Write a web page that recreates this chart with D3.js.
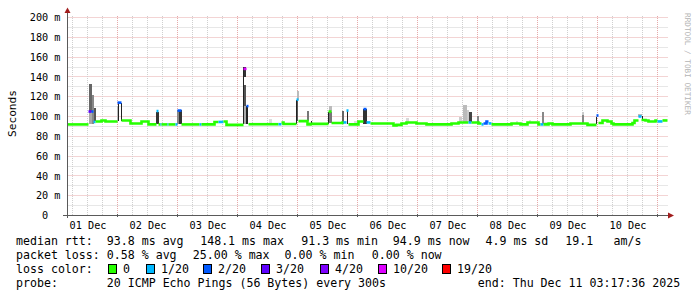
<!DOCTYPE html>
<html>
<head>
<meta charset="utf-8">
<script src="https://cdn.jsdelivr.net/npm/d3@7"></script>
<style>
  body { margin: 0; background: #fff; }
  svg { display: block; }
  text { font-family: "DejaVu Sans Mono", monospace; white-space: pre; }
</style>
</head>
<body>
<svg width="697" height="297"></svg>
<script>
// hours are counted from 01 Dec 2025 00:00 UTC
var DAY0 = Date.UTC(2025, 11, 1);
var START_H = 4, END_H = 244;

var days = ["2025-12-01", "2025-12-02", "2025-12-03", "2025-12-04", "2025-12-05",
            "2025-12-06", "2025-12-07", "2025-12-08", "2025-12-09", "2025-12-10"];
var yTicks = [0, 20, 40, 60, 80, 100, 120, 140, 160, 180, 200];

// median rtt in ms, as [hour, value] step changes
var median = [
  [4, 92], [12.4, 105], [14.4, 94.5], [15.2, 95], [17.6, 96], [19.2, 95], [24, 114], [25.6, 96],
  [29.2, 93], [33.6, 95], [36.4, 92], [39.6, 105.5], [40.4, 92], [48, 106], [49.6, 92],
  [62.8, 94.5], [66.4, 95], [67.6, 91.5], [74.4, 148.1], [75.6, 110.5], [76.4, 92.2],
  [89.6, 94], [90.4, 92.5], [95.6, 117], [96.4, 95.3], [100, 92], [101.2, 92.6],
  [108.4, 105], [109.6, 93.4], [114, 94], [115.6, 106], [116.4, 92], [120.4, 95],
  [122.4, 107.5], [123.6, 94], [125.2, 93], [134.4, 91], [135.6, 91.5], [137.6, 93],
  [139.6, 94], [143.6, 93], [147.6, 92], [157.6, 93], [160.4, 94], [168.4, 93], [169.6, 92],
  [170.4, 93], [171.6, 95], [172.4, 93], [173.6, 92], [181.6, 93], [185.2, 92], [188, 94],
  [192.4, 92], [196.4, 93], [198, 92], [205.2, 93], [212, 91.5], [215.6, 101], [216.4, 93.5],
  [218, 96], [220, 95], [221.6, 93], [222.4, 92], [230, 93.5], [230.8, 96], [232.4, 100],
  [233.6, 96.5], [235.2, 96], [236.4, 95], [239.2, 96], [240, 95], [242, 96]
];

// packet loss (pings lost out of 20), as [fromHour, toHour, lost]
var losses = [
  [12.4, 13.6, 3], [13.6, 14.4, 2], [14.4, 15.2, 1], [24, 25.6, 2], [39.6, 40.4, 1],
  [41.2, 41.6, 1], [44, 44.4, 1], [47.2, 48, 1], [48, 49.6, 2], [56.8, 57.6, 1],
  [64.4, 66.4, 1], [74.4, 75.6, 10], [75.6, 76.4, 2], [88.4, 89.6, 1], [95.6, 96.4, 1],
  [114.4, 116.4, 1], [122.4, 123.6, 2], [123.6, 125.2, 1], [164.4, 165.6, 1],
  [169.6, 170.4, 1], [170.4, 172.4, 2], [172.4, 173.6, 1], [193.2, 194.4, 1],
  [215.6, 216.4, 2], [232.4, 233.6, 1], [240, 242, 1]
];

// smoke: spread of the single pings, [fromHour, toHour, lowMs, highMs, density grey]
var smoke = [
  [12.4, 13.6, 105, 133, "#666"], [12.4, 13.6, 92, 105, "#a8a8a8"], [13.6, 14.4, 92, 122, "#888"],
  [14.4, 15.2, 95, 109, "#555"], [23.6, 24, 94, 111, "#bbb"], [24, 24.4, 95, 114, "#222"],
  [25.2, 25.6, 95, 114, "#222"], [39.2, 40.4, 92, 105, "#333"], [47.6, 48.4, 92, 107, "#888"],
  [48.4, 49.6, 92, 107, "#333"], [74, 74.4, 92, 150, "#222"], [74.4, 75.2, 140, 150, "#333"],
  [74.4, 75.2, 111, 132, "#555"], [74.4, 75.2, 92, 111, "#aaa"], [75.2, 76, 92, 111, "#222"],
  [84.4, 85.6, 93, 97, "#ddd"], [95.2, 95.6, 92, 117, "#222"], [95.6, 96.4, 117, 126, "#bbb"],
  [95.6, 96, 95, 117, "#555"], [99.6, 100.4, 95, 106, "#777"], [101.2, 101.6, 91, 95, "#222"],
  [108, 108.4, 92, 105, "#222"], [108.4, 109.6, 105, 111, "#bbb"], [108.4, 109.6, 93, 105, "#777"],
  [113.6, 114.4, 92, 106, "#666"], [115.6, 116, 92, 106, "#222"], [118.4, 120, 92, 95, "#ddd"],
  [122, 123.6, 92, 107.5, "#333"], [134, 134.4, 91, 93, "#222"], [139.2, 140.4, 94, 98, "#d8d8d8"],
  [160.4, 161.6, 94, 100, "#ccc"], [162, 163.6, 94, 112, "#bbb"], [163.6, 164.4, 94, 107, "#ccc"],
  [164.4, 165.6, 94, 105, "#444"], [167.6, 168.4, 93, 101, "#888"], [183.2, 184, 92, 95, "#ddd"],
  [188.4, 189.2, 94, 96, "#ddd"], [193.6, 194.4, 92, 105, "#888"], [194.4, 195.6, 92, 94, "#ddd"],
  [209.6, 210.4, 93, 102, "#888"], [209.6, 210.4, 102, 105, "#ccc"], [215.2, 215.6, 92, 99, "#222"],
  [232, 233.6, 100, 103, "#bbb"], [233.6, 234, 96, 101, "#222"]
];

var lossSteps = [0, 1, 2, 3, 4, 10, 19];
var lossColors = ["#26ff00", "#00b8ff", "#0059ff", "#5e00ff", "#7e00ff", "#dd00ff", "#ff0000"];
var lossLabels = ["0", "1/20", "2/20", "3/20", "4/20", "10/20", "19/20"];

var rttStats = [93.8, 148.1, 91.3, 94.9, 4.9, 19.1];
var lossStats = [0.58, 25.00, 0.00, 0.00];

function hour(h) { return new Date(DAY0 + h * 3600e3); }

var svg = d3.select("svg");

var x = d3.scaleUtc().domain([hour(START_H), hour(END_H)]).range([67.5, 667.5]);
var y = d3.scaleLinear().domain([0, 200]).range([215.5, 17.5]);
var lossColor = d3.scaleThreshold().domain(lossSteps.slice(1)).range(lossColors);

function px(v) { return Math.round(v - 0.5) + 0.5; }

// grid
var grid = svg.append("g").attr("fill", "none").attr("stroke-dasharray", "1,1");
d3.range(10, 201, 10).forEach(function(v) {
  grid.append("line")
      .attr("x1", 67.5).attr("x2", 668)
      .attr("y1", px(y(v))).attr("y2", px(y(v)))
      .attr("stroke", v % 20 ? "#cfcfcf" : "#e6a9a9");
});
d3.utcHour.every(6).range(hour(START_H), hour(END_H)).forEach(function(t) {
  grid.append("line")
      .attr("x1", px(x(t))).attr("x2", px(x(t)))
      .attr("y1", 215).attr("y2", 15)
      .attr("stroke", t.getUTCHours() ? "#cfcfcf" : "#e6a9a9");
});

// smoke
svg.append("g").attr("shape-rendering", "crispEdges")
  .selectAll("rect").data(smoke).enter().append("rect")
    .attr("x", function(d) { return x(hour(d[0])); })
    .attr("width", function(d) { return x(hour(d[1])) - x(hour(d[0])); })
    .attr("y", function(d) { return y(d[3]); })
    .attr("height", function(d) { return y(d[2]) - y(d[3]); })
    .attr("fill", function(d) { return d[4]; });

// median line, split into runs of the same loss colour (big jumps are not joined)
function valueAt(h) {
  var v = median[0][1];
  median.forEach(function(d) { if (d[0] <= h) v = d[1]; });
  return v;
}
function lossAt(h) {
  var c = 0;
  losses.forEach(function(d) { if (h >= d[0] && h < d[1]) c = d[2]; });
  return c;
}
var breaks = median.map(function(d) { return d[0]; })
  .concat(d3.merge(losses.map(function(d) { return [d[0], d[1]]; })), [END_H]);
breaks = Array.from(new Set(breaks)).sort(d3.ascending);

var runs = [];
for (var i = 0; i < breaks.length - 1; i++) {
  var a = breaks[i], b = breaks[i + 1], col = lossColor(lossAt(a)), v = valueAt(a);
  var last = runs[runs.length - 1];
  if (last && last.color === col && Math.abs(last.pts[last.pts.length - 1][1] - v) < 8) {
    last.pts.pop();
    last.pts.push([a, v], [b, v]);
  } else {
    runs.push({ color: col, pts: [[a, v], [b, v]] });
  }
}

var line = d3.line()
    .x(function(d) { return x(hour(d[0])); })
    .y(function(d) { return y(d[1]); })
    .curve(d3.curveStepAfter);

svg.append("g").attr("fill", "none").attr("stroke-width", 2.6)
  .selectAll("path").data(runs).enter().append("path")
    .attr("stroke", function(d) { return d.color; })
    .attr("d", function(d) { return line(d.pts); });

// axes
var yAxis = svg.append("g")
    .attr("transform", "translate(67.5,0)")
    .call(d3.axisLeft(y).tickValues(yTicks).tickSize(0).tickPadding(7)
      .tickFormat(function(d) { return d ? d + " m" : "0  "; }));
yAxis.select(".domain").remove();
yAxis.selectAll("text").attr("font-family", "DejaVu Sans Mono").attr("font-size", 10.2).attr("fill", "#000");

var xAxis = svg.append("g")
    .attr("transform", "translate(0,215.5)")
    .call(d3.axisBottom(x)
      .tickValues(days.map(function(d) { return d3.utcHour.offset(new Date(d + "T00:00Z"), 12); }))
      .tickSize(0).tickPadding(6)
      .tickFormat(d3.utcFormat("%d %b")));
xAxis.select(".domain").remove();
xAxis.selectAll("text").attr("font-family", "DejaVu Sans Mono").attr("font-size", 10.2).attr("fill", "#000");

var axisCol = "#5a5a5a", arrowCol = "#a11d1d";
svg.append("g").attr("stroke", axisCol)
  .selectAll("line")
  .data(d3.utcDay.range(hour(START_H), hour(END_H)))
  .enter().append("line")
    .attr("x1", function(d) { return px(x(d)); }).attr("x2", function(d) { return px(x(d)); })
    .attr("y1", 214).attr("y2", 217);
svg.append("line").attr("x1", 67.5).attr("x2", 67.5).attr("y1", 12).attr("y2", 218).attr("stroke", axisCol);
svg.append("line").attr("x1", 63).attr("x2", 669).attr("y1", 215.5).attr("y2", 215.5).attr("stroke", axisCol);
svg.append("path").attr("d", "M64.5,13L70.5,13L67.5,7.5Z").attr("fill", arrowCol);
svg.append("path").attr("d", "M668,212.5L668,218.5L674,215.5Z").attr("fill", arrowCol);

// titles
svg.append("text")
    .attr("transform", "translate(15.5,113.5) rotate(-90)")
    .attr("text-anchor", "middle")
    .attr("font-size", 11.2)
    .text("Seconds");
svg.append("text")
    .attr("transform", "translate(685,13) rotate(90)")
    .attr("font-size", 7.7)
    .attr("fill", "#b4b4b4")
    .text("RRDTOOL / TOBI OETIKER");

// legend
var legend = svg.append("g").attr("font-size", 11.6).attr("fill", "#000");
function put(tx, lx, ly) { legend.append("text").attr("x", lx).attr("y", ly).text(tx); }

var f1 = d3.format(".1f"), f2 = d3.format(".2f");
put("median rtt:", 16, 245);
var rttText = [f1(rttStats[0]) + " ms avg", f1(rttStats[1]) + " ms max", f1(rttStats[2]) + " ms min",
               f1(rttStats[3]) + " ms now", f1(rttStats[4]) + " ms sd", f1(rttStats[5]), "am/s"];
[106.8, 200.2, 301.2, 392.8, 485.5, 565.2, 613.5].forEach(function(lx, i) { put(rttText[i], lx, 245); });

put("packet loss:", 16, 259);
var lossText = [f2(lossStats[0]) + " % avg", f2(lossStats[1]) + " % max",
                f2(lossStats[2]) + " % min", f2(lossStats[3]) + " % now"];
[106.8, 192.8, 284.6, 371.8].forEach(function(lx, i) { put(lossText[i], lx, 259); });

put("loss color:", 16, 273);
[108.5, 146.5, 203.5, 261.5, 320.5, 378.5, 442.5].forEach(function(lx, i) {
  legend.append("rect").attr("x", lx).attr("y", 264.5).attr("width", 8).attr("height", 9)
      .attr("fill", lossColors[i]).attr("stroke", "#000");
  put(lossLabels[i], lx + 14.5, 273);
});

put("probe:", 16, 287);
put("20 ICMP Echo Pings (56 Bytes) every 300s", 106.8, 287);
put("end: Thu Dec 11 03:17:36 2025", 477.8, 287);
</script>
</body>
</html>
